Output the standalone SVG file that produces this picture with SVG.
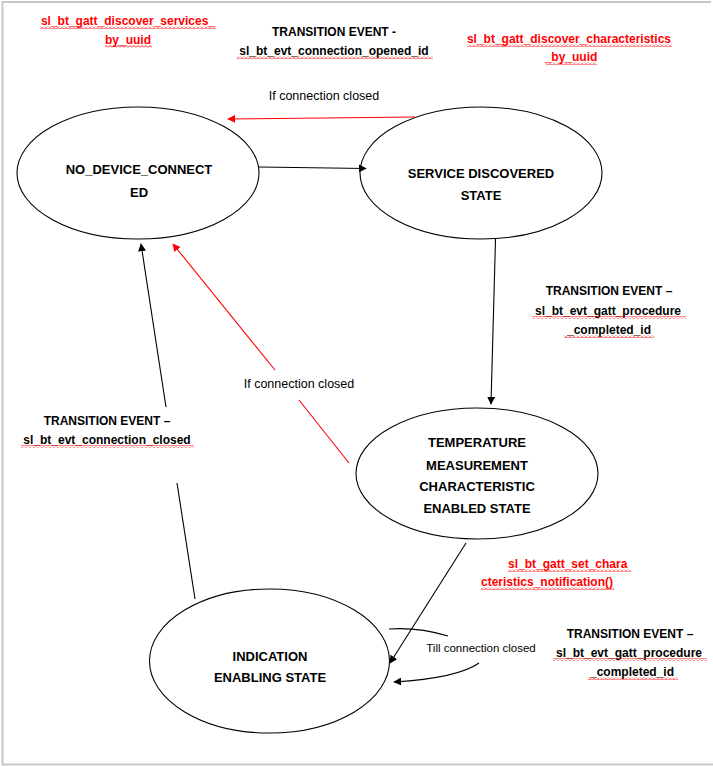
<svg xmlns="http://www.w3.org/2000/svg" width="713" height="766" viewBox="0 0 713 766">
<style>
.node{fill:#fff;stroke:#000;stroke-width:1.1}
.nl{font-family:"Liberation Sans",Arial,sans-serif;font-weight:bold;font-size:13px;fill:#000;text-anchor:middle}
.lb{font-family:"Liberation Sans",Arial,sans-serif;font-weight:bold;font-size:12px;fill:#000;text-anchor:middle}
.rd{font-family:"Liberation Sans",Arial,sans-serif;font-weight:bold;font-size:12px;fill:#f00;text-anchor:middle}
.nt{font-family:"Liberation Sans",Arial,sans-serif;font-size:12.5px;fill:#000;text-anchor:middle}
.bk{fill:none;stroke:#000;stroke-width:1.1}
.rl{fill:none;stroke:#f00;stroke-width:1.1}
.sq{fill:url(#squig)}
</style>
<defs>
<marker id="ab" viewBox="0 0 10 10" refX="9" refY="5" markerWidth="8" markerHeight="8" markerUnits="userSpaceOnUse" orient="auto"><path d="M0,0 L10,5 L0,10 z" fill="#000"/></marker>
<marker id="ar" viewBox="0 0 10 10" refX="9" refY="5" markerWidth="8" markerHeight="8" markerUnits="userSpaceOnUse" orient="auto"><path d="M0,0 L10,5 L0,10 z" fill="#f00"/></marker>
<pattern id="squig" x="0" y="0" width="4" height="3" patternUnits="userSpaceOnUse"><path d="M0,2.5 L2,0.5 L4,2.5" fill="none" stroke="#f00" stroke-width="0.9"/></pattern>
</defs>
<rect width="713" height="766" fill="#fff"/>
<path d="M711,2 L2.5,2 L2.5,764.5 L713,764.5" fill="none" stroke="#c8c8c8" stroke-width="2"/>

<g id="no_device_connected">
<ellipse class="node" cx="138" cy="173" rx="121" ry="66"/>
<text class="nl" x="139" y="174">NO_DEVICE_CONNECT</text>
<text class="nl" x="139" y="197">ED</text>
</g>

<g id="service_discovered">
<ellipse class="node" cx="481" cy="173" rx="121" ry="66"/>
<text class="nl" x="481" y="178">SERVICE DISCOVERED</text>
<text class="nl" x="481" y="200">STATE</text>
</g>

<g id="temperature_measurement">
<ellipse class="node" cx="477" cy="473.5" rx="121" ry="65.5"/>
<text class="nl" x="477" y="447">TEMPERATURE</text>
<text class="nl" x="477" y="470">MEASUREMENT</text>
<text class="nl" x="477" y="491">CHARACTERISTIC</text>
<text class="nl" x="477" y="513">ENABLED STATE</text>
</g>

<g id="indication_enabling">
<ellipse class="node" cx="269.5" cy="661" rx="120" ry="72"/>
<text class="nl" x="270" y="661">INDICATION</text>
<text class="nl" x="270" y="682">ENABLING STATE</text>
</g>

<g id="connectors">
<line class="bk" x1="259" y1="167" x2="366" y2="168.5" marker-end="url(#ab)"/>
<line class="rl" x1="415" y1="117" x2="228" y2="119" marker-end="url(#ar)"/>
<line class="bk" x1="495.5" y1="239" x2="491" y2="404" marker-end="url(#ab)"/>
<line class="bk" x1="195" y1="599" x2="177" y2="483"/>
<line class="bk" x1="166" y1="407" x2="141" y2="244" marker-end="url(#ab)"/>
<line class="rl" x1="349" y1="463" x2="299" y2="400"/>
<line class="rl" x1="275" y1="370" x2="173" y2="244" marker-end="url(#ar)"/>
<line class="bk" x1="466" y1="543" x2="390" y2="663" marker-end="url(#ab)"/>
<path class="bk" d="M389,629 Q418,627 448,636"/>
<path class="bk" d="M479,663 Q458,678 394,682" marker-end="url(#ab)"/>
<text class="nt" x="324" y="100">If connection closed</text>
<text class="nt" x="299" y="388">If connection closed</text>
<text class="nt" x="481" y="652" style="font-size:11.5px">Till connection closed</text>
</g>

<g id="labels">
<text class="rd" x="128" y="25">sl_bt_gatt_discover_services_</text>
<rect class="sq" x="40" y="26" width="176" height="3"/>
<text class="rd" x="128" y="44">by_uuid</text>
<rect class="sq" x="105" y="45" width="47" height="3"/>

<text class="lb" x="334" y="36">TRANSITION EVENT -</text>
<text class="lb" x="334" y="55">sl_bt_evt_connection_opened_id</text>
<rect class="sq" x="237" y="56" width="196" height="3"/>

<text class="rd" x="569" y="43">sl_bt_gatt_discover_characteristics</text>
<rect class="sq" x="467" y="44" width="205" height="3"/>
<text class="rd" x="571" y="61">_by_uuid</text>
<rect class="sq" x="546" y="62" width="51" height="3"/>

<text class="lb" x="609" y="295">TRANSITION EVENT –</text>
<text class="lb" x="608" y="315">sl_bt_evt_gatt_procedure</text>
<rect class="sq" x="532" y="316" width="154" height="3"/>
<text class="lb" x="609" y="334">_completed_id</text>
<rect class="sq" x="564" y="335" width="90" height="3"/>

<text class="lb" x="107" y="425">TRANSITION EVENT –</text>
<text class="lb" x="107" y="444">sl_bt_evt_connection_closed</text>
<rect class="sq" x="21" y="445" width="173" height="3"/>

<text class="rd" x="508" y="568" style="text-anchor:start">sl_bt_gatt_set_chara</text>
<rect class="sq" x="508" y="569" width="123" height="3"/>
<text class="rd" x="481" y="586" style="text-anchor:start">cteristics_notification()</text>
<rect class="sq" x="481" y="587" width="133" height="3"/>

<text class="lb" x="630" y="638">TRANSITION EVENT –</text>
<text class="lb" x="629" y="657">sl_bt_evt_gatt_procedure</text>
<rect class="sq" x="553" y="658" width="154" height="3"/>
<text class="lb" x="632" y="676">_completed_id</text>
<rect class="sq" x="588" y="677" width="90" height="3"/>
</g>
</svg>
